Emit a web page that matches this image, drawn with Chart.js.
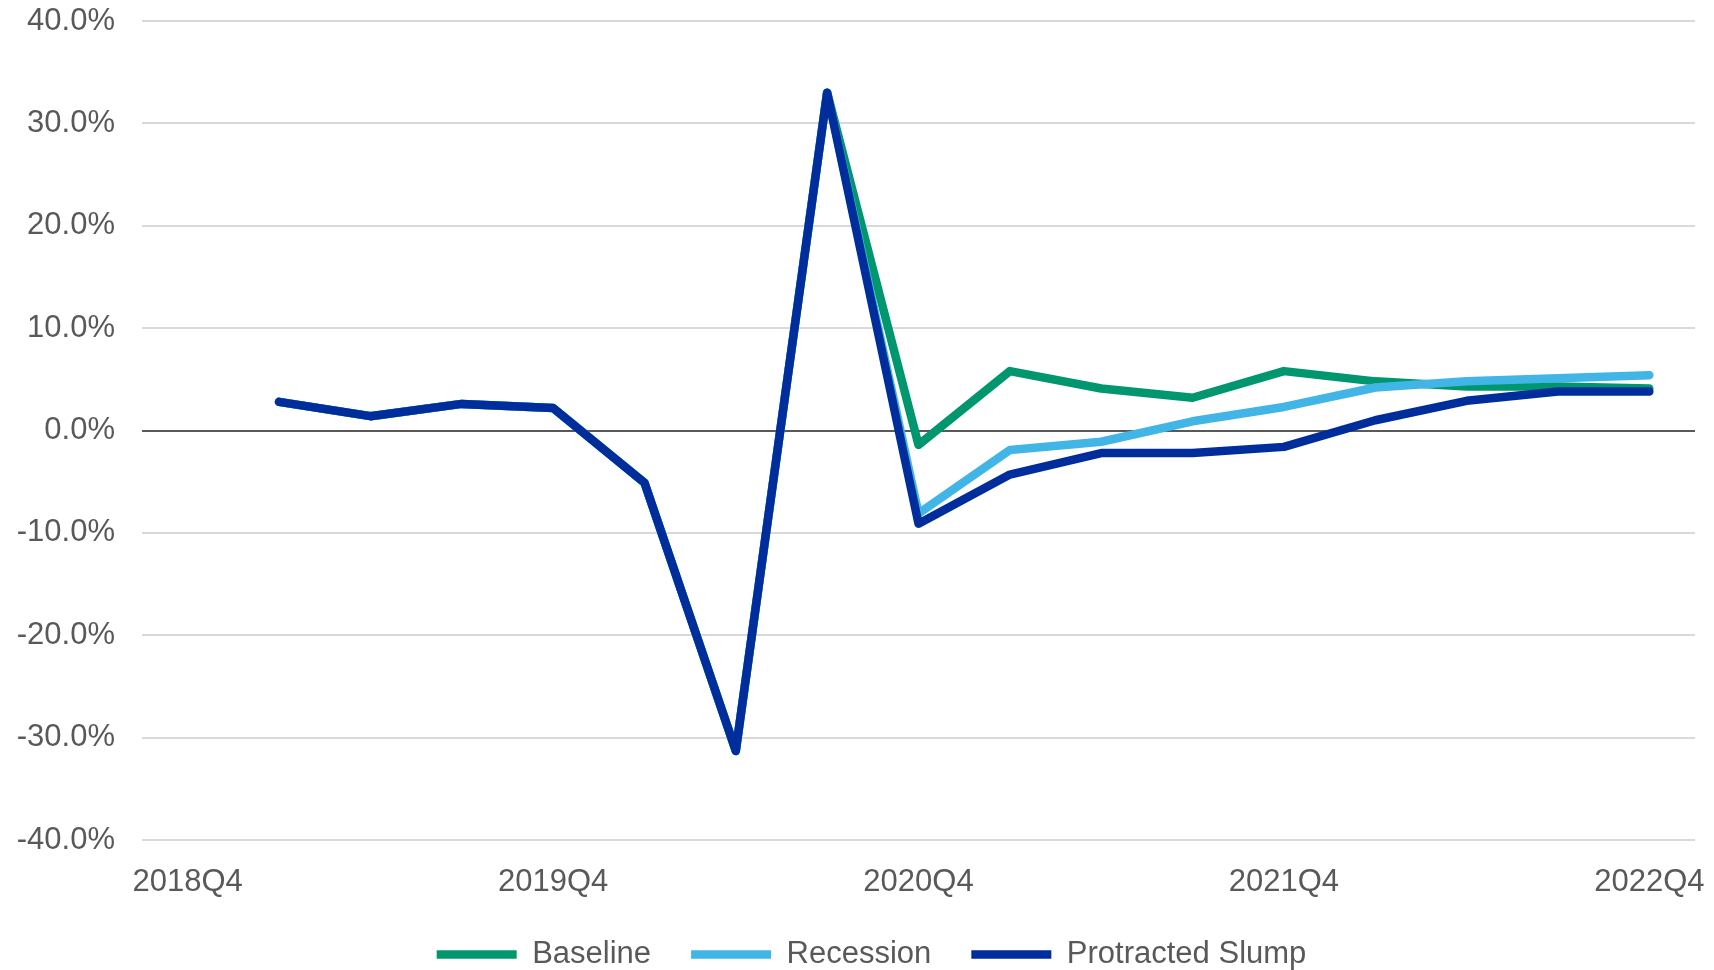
<!DOCTYPE html>
<html>
<head>
<meta charset="utf-8">
<script src="https://cdn.jsdelivr.net/npm/chart.js@4"></script>
<style>
  body { margin: 0; background: #fff; }
  #wrap { width: 1714px; height: 970px; }
</style>
</head>
<body>
<div id="wrap"><canvas id="myChart"></canvas></div>
<script>
let quarters = ['2018Q4', '2019Q1', '2019Q2', '2019Q3', '2019Q4', '2020Q1', '2020Q2', '2020Q3', '2020Q4',
  '2021Q1', '2021Q2', '2021Q3', '2021Q4', '2022Q1', '2022Q2', '2022Q3', '2022Q4'];
let tickLabels = ['2018Q4', '2019Q4', '2020Q4', '2021Q4', '2022Q4'];

let baseline = [null, 2.8, 1.4, 2.6, 2.2, -5.1, -31.3, 33.0, -1.4, 5.8, 4.1, 3.2, 5.8, 4.8, 4.3, 4.3, 4.1];
let recession = [null, 2.8, 1.4, 2.6, 2.2, -5.1, -31.3, 33.0, -8.1, -1.9, -1.1, 0.9, 2.3, 4.2, 4.8, 5.1, 5.4];
let slump = [null, 2.8, 1.4, 2.6, 2.2, -5.1, -31.3, 33.0, -9.1, -4.3, -2.2, -2.2, -1.6, 1.0, 2.9, 3.8, 3.8];

let textColor = '#595959';
Chart.defaults.font.family = '"Liberation Sans", Arial, sans-serif';
Chart.defaults.font.size = 31;
Chart.defaults.color = textColor;

function lineSet(label, data, color, order) {
  return {
    label: label,
    data: data,
    borderColor: color,
    backgroundColor: color,
    borderWidth: 8.5,
    borderCapStyle: 'round',
    borderJoinStyle: 'round',
    pointRadius: 0,
    tension: 0,
    order: order
  };
}

// nudge the legend a bit right, like in the original
let legendShift = {
  id: 'legendShift',
  afterLayout: function (chart) {
    chart.legend.left += 24;
    chart.legend.right += 24;
  }
};

let ctx = document.getElementById('myChart').getContext('2d');

let chart = new Chart(ctx, {
  type: 'line',
  data: {
    labels: quarters,
    datasets: [
      lineSet('Baseline', baseline, '#00976F', 3),
      lineSet('Recession', recession, '#41B6E6', 2),
      lineSet('Protracted Slump', slump, '#002D9C', 1)
    ]
  },
  plugins: [legendShift],
  options: {
    responsive: true,
    maintainAspectRatio: false,
    animation: false,
    layout: { padding: { top: 21, right: 19, left: 0, bottom: 0 } },
    plugins: {
      tooltip: { enabled: false },
      legend: {
        position: 'bottom',
        maxHeight: 71,
        labels: {
          usePointStyle: true,
          pointStyle: 'line',
          pointStyleWidth: 80,
          padding: 40,
          color: textColor,
          sort: (a, b) => a.datasetIndex - b.datasetIndex
        }
      }
    },
    scales: {
      x: {
        offset: true,
        afterFit: function (scale) { scale.height = 59; },
        grid: { color: 'rgba(0,0,0,0)', drawTicks: true, tickLength: 24, tickColor: 'rgba(0,0,0,0)' },
        border: { display: false },
        ticks: {
          autoSkip: false,
          maxRotation: 0,
          padding: 0,
          callback: function (value, index) {
            let q = quarters[index];
            return tickLabels.includes(q) ? q : '';
          }
        }
      },
      y: {
        min: -40,
        max: 40,
        afterFit: function (scale) { scale.width = 142; },
        border: { display: false },
        grid: {
          drawTicks: true,
          tickLength: 27,
          tickColor: 'rgba(0,0,0,0)',
          lineWidth: 2,
          color: (c) => c.tick && c.tick.value === 0 ? '#595959' : '#D9D9D9'
        },
        ticks: {
          stepSize: 10,
          padding: 0,
          callback: (v) => v.toFixed(1) + '%'
        }
      }
    }
  }
});
</script>
</body>
</html>
